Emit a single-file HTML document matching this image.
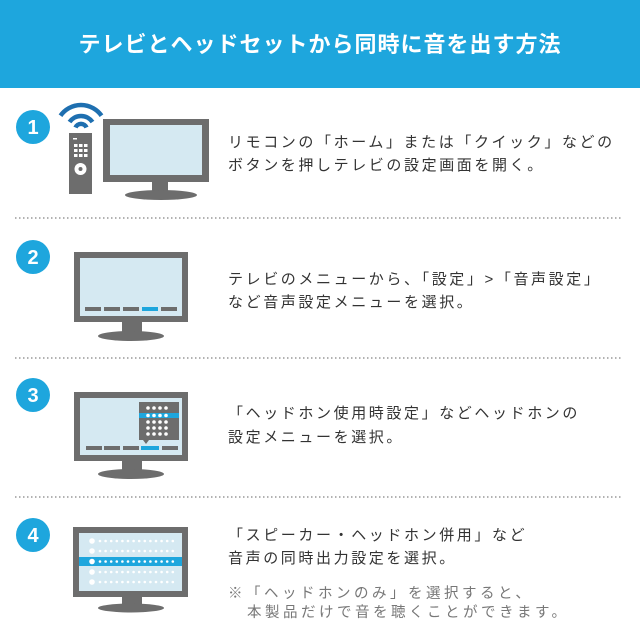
<!DOCTYPE html>
<html><head><meta charset="utf-8"><style>
body{margin:0;width:640px;height:640px;background:#fff;overflow:hidden}
svg{display:block}
text{font-family:"Liberation Sans","Noto Sans CJK JP",sans-serif}
</style></head><body>
<svg width="640" height="640" viewBox="0 0 640 640">
<rect x="0" y="0" width="640" height="88" fill="#1ea6dd"/>
<text x="320" y="52" text-anchor="middle" font-size="22" font-weight="bold" fill="#fff" letter-spacing="1">テレビとヘッドセットから同時に音を出す方法</text>
<g fill="#1ea6dd">
<circle cx="33" cy="127" r="17"/><circle cx="33" cy="257" r="17"/><circle cx="33" cy="395" r="17"/><circle cx="33" cy="535" r="17"/>
</g>
<g fill="#fff" font-size="20" font-weight="bold" text-anchor="middle">
<text x="33" y="134">1</text><text x="33" y="264">2</text><text x="33" y="402">3</text><text x="33" y="542">4</text>
</g>
<g stroke="#999" stroke-width="1.5" stroke-dasharray="1.5 2.5">
<line x1="15" y1="218" x2="622" y2="218"/><line x1="15" y1="358" x2="622" y2="358"/><line x1="15" y1="497" x2="622" y2="497"/>
</g>
<!-- step1 -->
<g fill="#6d6d6d">
<rect x="103" y="119" width="106" height="63"/>
<rect x="152" y="182" width="16" height="10"/>
<ellipse cx="161" cy="195" rx="36" ry="5"/>
<rect x="69" y="133" width="23" height="61"/>
</g>
<rect x="110" y="125" width="92" height="50" fill="#d5e9f2"/>
<g fill="#fff"><rect x="73" y="138" width="4" height="1.5"/>
<rect x="74" y="144" width="3.5" height="3"/><rect x="79" y="144" width="3.5" height="3"/><rect x="84" y="144" width="3.5" height="3"/>
<rect x="74" y="149" width="3.5" height="3"/><rect x="79" y="149" width="3.5" height="3"/><rect x="84" y="149" width="3.5" height="3"/>
<rect x="74" y="154" width="3.5" height="3"/><rect x="79" y="154" width="3.5" height="3"/><rect x="84" y="154" width="3.5" height="3"/>
<circle cx="80.5" cy="169" r="6"/></g>
<circle cx="80.5" cy="169" r="2" fill="#6d6d6d"/>
<g fill="none" stroke="#1e6fb0" stroke-width="4.5">
<path d="M60.5 115.7 A25 25 0 0 1 101.5 115.7"/>
<path d="M69.5 122 A14 14 0 0 1 92.5 122"/>
<path d="M75.5 127.5 A6 6 0 0 1 86.5 127.5"/>
</g>
<!-- step2 -->
<g fill="#6d6d6d"><rect x="74" y="252" width="114" height="70"/><rect x="122" y="322" width="20" height="10"/><ellipse cx="131" cy="336" rx="33" ry="5"/></g>
<rect x="80" y="258" width="102" height="58" fill="#d5e9f2"/>
<g fill="#6d6d6d"><rect x="85" y="307" width="16" height="4"/><rect x="104" y="307" width="16" height="4"/><rect x="123" y="307" width="16" height="4"/><rect x="161" y="307" width="16" height="4"/></g>
<rect x="142" y="307" width="16" height="4" fill="#1ea6dd"/>
<!-- step3 -->
<g fill="#6d6d6d"><rect x="74" y="392" width="114" height="69"/><rect x="122" y="461" width="20" height="10"/><ellipse cx="131" cy="474" rx="33" ry="5"/></g>
<rect x="80" y="398" width="102" height="57" fill="#d5e9f2"/>
<g fill="#6d6d6d"><rect x="86" y="446" width="16" height="4"/><rect x="104" y="446" width="16" height="4"/><rect x="123" y="446" width="16" height="4"/><rect x="162" y="446" width="16" height="4"/>
<path d="M139 402 H179 V440 H149 L146 444 L143 440 H139 Z"/></g>
<rect x="141" y="446" width="18" height="4" fill="#1ea6dd"/>
<rect x="139" y="413" width="40" height="5" fill="#1ea6dd"/>
<g fill="#fff">
<circle cx="148" cy="408" r="1.8"/><circle cx="154" cy="408" r="1.8"/><circle cx="160" cy="408" r="1.8"/><circle cx="166" cy="408" r="1.8"/>
<circle cx="148" cy="415.5" r="1.8"/><circle cx="154" cy="415.5" r="1.8"/><circle cx="160" cy="415.5" r="1.8"/><circle cx="166" cy="415.5" r="1.8"/>
<circle cx="148" cy="422" r="1.8"/><circle cx="154" cy="422" r="1.8"/><circle cx="160" cy="422" r="1.8"/><circle cx="166" cy="422" r="1.8"/>
<circle cx="148" cy="428" r="1.8"/><circle cx="154" cy="428" r="1.8"/><circle cx="160" cy="428" r="1.8"/><circle cx="166" cy="428" r="1.8"/>
<circle cx="148" cy="434" r="1.8"/><circle cx="154" cy="434" r="1.8"/><circle cx="160" cy="434" r="1.8"/><circle cx="166" cy="434" r="1.8"/>
</g>
<!-- step4 -->
<g fill="#6d6d6d"><rect x="73" y="527" width="115" height="70"/><rect x="122" y="597" width="20" height="9"/><ellipse cx="131" cy="608" rx="33" ry="4.5"/></g>
<rect x="79" y="533" width="103" height="58" fill="#d5e9f2"/>
<rect x="79" y="557" width="103" height="9" fill="#1ea6dd"/>
<g fill="#fff">
<circle cx="92" cy="541" r="2.8"/><circle cx="92" cy="551" r="2.8"/><circle cx="92" cy="561.5" r="2.8"/><circle cx="92" cy="572" r="2.8"/><circle cx="92" cy="582" r="2.8"/>
</g>
<g stroke="#fff" stroke-width="2.6" stroke-linecap="round" stroke-dasharray="0 5.6">
<line x1="100" y1="541" x2="177" y2="541"/><line x1="100" y1="551" x2="177" y2="551"/><line x1="100" y1="561.5" x2="177" y2="561.5"/><line x1="100" y1="572" x2="177" y2="572"/><line x1="100" y1="582" x2="177" y2="582"/>
</g>
<g fill="#333" font-size="15" letter-spacing="2.6">
<text x="228" y="147">リモコンの「ホーム」または「クイック」などの</text>
<text x="228" y="170">ボタンを押しテレビの設定画面を開く。</text>
<text x="228" y="284">テレビのメニューから、「設定」&gt;「音声設定」</text>
<text x="228" y="307">など音声設定メニューを選択。</text>
<text x="228" y="418">「ヘッドホン使用時設定」などヘッドホンの</text>
<text x="228" y="442">設定メニューを選択。</text>
<text x="228" y="540">「スピーカー・ヘッドホン併用」など</text>
<text x="228" y="563">音声の同時出力設定を選択。</text>
</g>
<g fill="#777" font-size="14.5" letter-spacing="3.5">
<text x="228" y="598">※「ヘッドホンのみ」を選択すると、</text>
<text x="247" y="617">本製品だけで音を聴くことができます。</text>
</g>
</svg>
</body></html>
